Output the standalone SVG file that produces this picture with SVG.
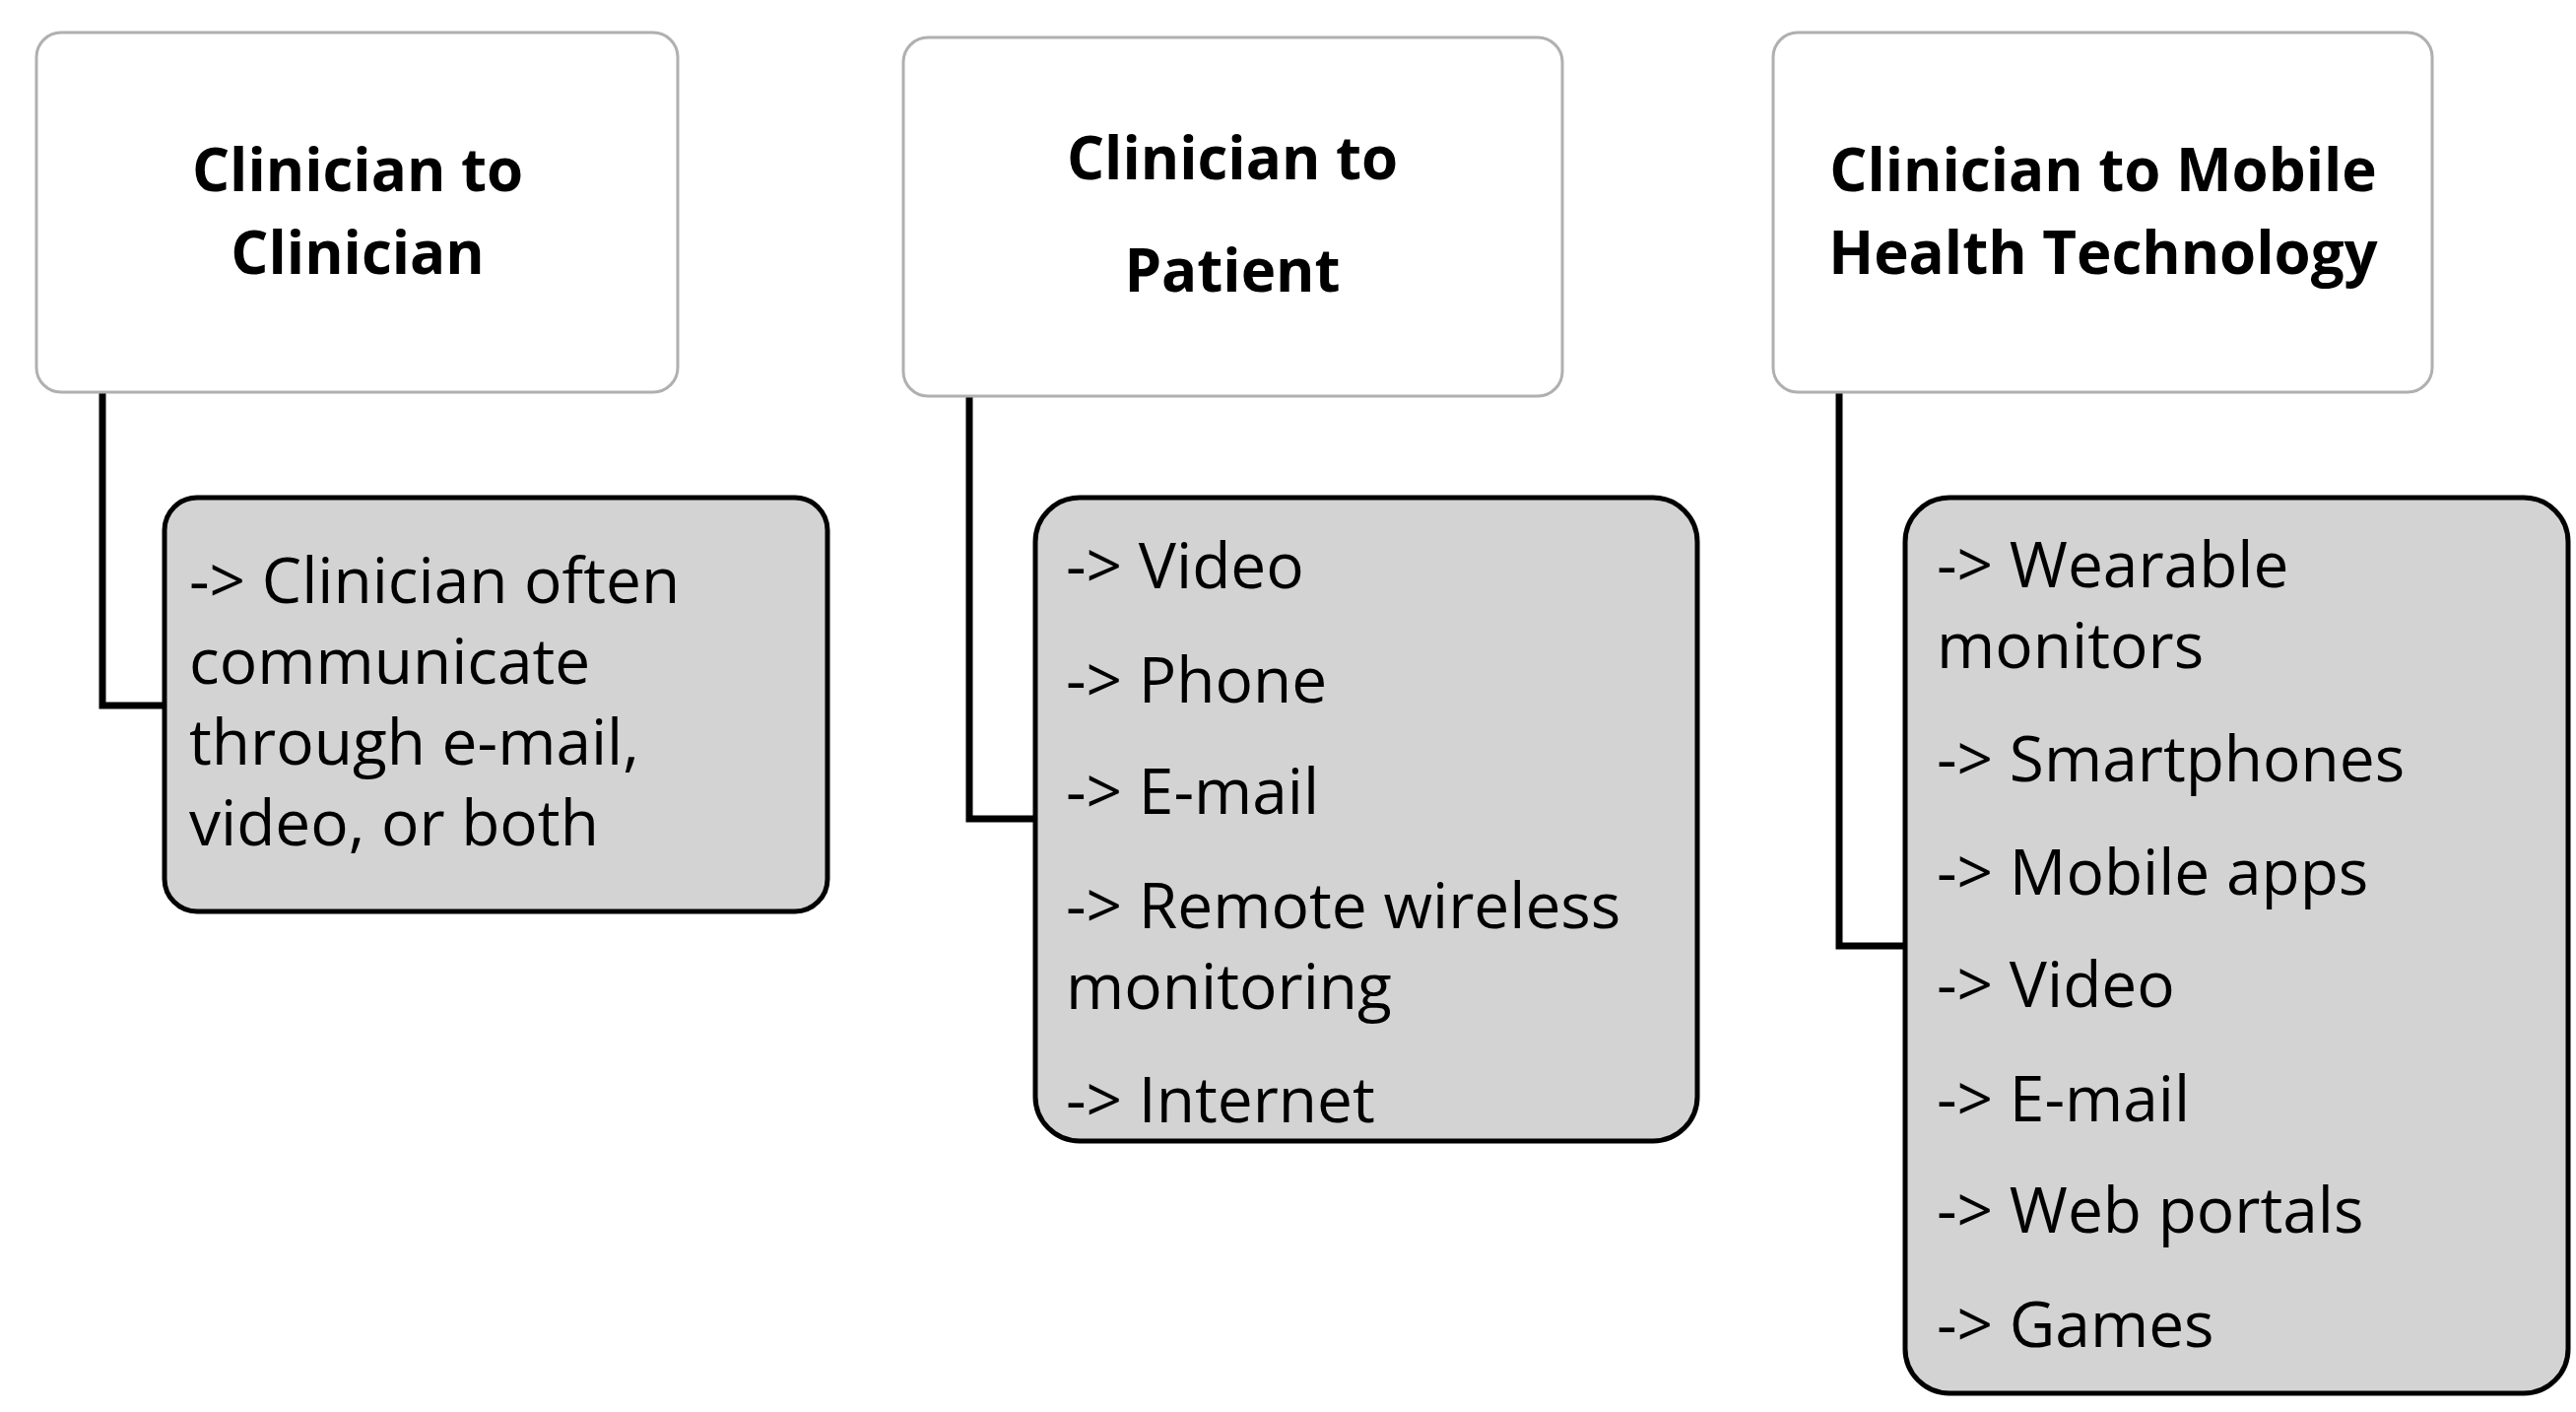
<svg xmlns="http://www.w3.org/2000/svg" width="2615" height="1433" viewBox="0 0 2615 1433">
<style>
.t{fill:#fff;stroke:#b0b0b0;stroke-width:3}
.g{fill:#d3d3d3;stroke:#000;stroke-width:5}
.h{font-family:"Open Sans","Liberation Sans",sans-serif;font-weight:bold;font-size:60px;text-anchor:middle;fill:#000}
.b{font-family:"Open Sans","Liberation Sans",sans-serif;font-size:64px;fill:#000}
.c{fill:none;stroke:#000;stroke-width:7}
</style>
<rect width="2615" height="1433" fill="#fff"/>
<g id="connectors">
<polyline class="c" points="104,398 104,716 167,716"/>
<polyline class="c" points="984,402 984,831 1051,831"/>
<polyline class="c" points="1867,398 1867,960 1934,960"/>
</g>
<g id="n1"><rect class="t" x="37" y="33" width="651" height="365" rx="25"/>
<text class="h" x="363" y="194">Clinician to</text><text class="h" x="363" y="278">Clinician</text></g>
<g id="n2"><rect class="t" x="917" y="38" width="669" height="364" rx="25"/>
<text class="h" x="1251" y="182">Clinician to</text><text class="h" x="1251" y="296">Patient</text></g>
<g id="n3"><rect class="t" x="1800" y="33" width="669" height="365" rx="25"/>
<text class="h" x="2135" y="194">Clinician to Mobile</text><text class="h" x="2135" y="278">Health Technology</text></g>
<g id="n4"><rect class="g" x="167" y="505" width="673" height="420" rx="33"/>
<text class="b" x="192" y="612">-&gt; Clinician often</text>
<text class="b" x="192" y="694">communicate</text>
<text class="b" x="192" y="776">through e-mail,</text>
<text class="b" x="192" y="858">video, or both</text></g>
<g id="n5"><rect class="g" x="1051" y="505" width="672" height="653" rx="45"/>
<text class="b" x="1082" y="597">-&gt; Video</text>
<text class="b" x="1082" y="713">-&gt; Phone</text>
<text class="b" x="1082" y="826">-&gt; E-mail</text>
<text class="b" x="1082" y="942">-&gt; Remote wireless</text>
<text class="b" x="1082" y="1024">monitoring</text>
<text class="b" x="1082" y="1139">-&gt; Internet</text></g>
<g id="n6"><rect class="g" x="1934" y="505" width="673" height="909" rx="45"/>
<text class="b" x="1966" y="596">-&gt; Wearable</text>
<text class="b" x="1966" y="678">monitors</text>
<text class="b" x="1966" y="793">-&gt; Smartphones</text>
<text class="b" x="1966" y="908">-&gt; Mobile apps</text>
<text class="b" x="1966" y="1022">-&gt; Video</text>
<text class="b" x="1966" y="1138">-&gt; E-mail</text>
<text class="b" x="1966" y="1251">-&gt; Web portals</text>
<text class="b" x="1966" y="1367">-&gt; Games</text></g>
</svg>
